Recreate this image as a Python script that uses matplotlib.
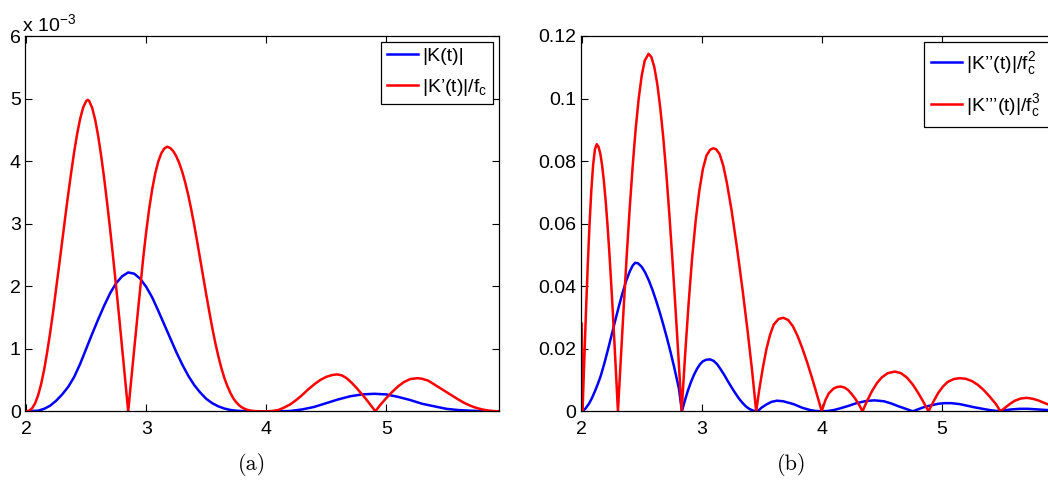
import matplotlib
matplotlib.use("Agg")
import matplotlib.pyplot as plt
from matplotlib.ticker import FuncFormatter

plt.rcParams['font.family'] = ['Liberation Sans', 'DejaVu Sans']
plt.rcParams['mathtext.fontset'] = 'custom'
plt.rcParams['mathtext.rm'] = 'Liberation Sans'
plt.rcParams['mathtext.it'] = 'Liberation Sans'

# ---------------- Panel (a) data (y in units of 1e-3) ----------------
red_a_x = [2.000, 2.025, 2.050, 2.075, 2.100, 2.125, 2.150, 2.175, 2.200, 2.225, 2.250,
           2.275, 2.300, 2.325, 2.350, 2.375, 2.400, 2.425, 2.450, 2.475, 2.500, 2.513,
           2.525, 2.550, 2.575, 2.600, 2.625, 2.650, 2.675, 2.700, 2.725, 2.750, 2.775,
           2.800, 2.825, 2.850,
           2.875, 2.900, 2.925, 2.950, 2.975, 3.000, 3.025, 3.050, 3.075, 3.100, 3.125,
           3.150, 3.175, 3.200, 3.225, 3.250, 3.275, 3.300, 3.325, 3.350, 3.375, 3.400,
           3.425, 3.450, 3.475, 3.500, 3.525, 3.550, 3.575, 3.600, 3.625, 3.650, 3.675,
           3.700, 3.725, 3.750, 3.775, 3.800, 3.825, 3.850, 3.875, 3.900, 3.950, 4.000,
           4.05, 4.10, 4.15, 4.20, 4.25, 4.30, 4.35, 4.40, 4.45, 4.50, 4.55, 4.59,
           4.63, 4.67, 4.71, 4.75, 4.79, 4.83, 4.87, 4.91,
           4.95, 5.00, 5.05, 5.10, 5.15, 5.20, 5.26, 5.30, 5.35, 5.40, 5.45, 5.50,
           5.55, 5.60, 5.65, 5.70, 5.75, 5.80, 5.85, 5.90, 5.95]
red_a_y = [0.00, 0.01, 0.05, 0.13, 0.26, 0.44, 0.67, 0.95, 1.26, 1.60, 1.97,
           2.34, 2.72, 3.10, 3.47, 3.82, 4.15, 4.44, 4.68, 4.86, 4.96, 4.98,
           4.96, 4.85, 4.66, 4.40, 4.08, 3.72, 3.32, 2.90, 2.45, 1.98, 1.50,
           1.00, 0.50, 0.00,
           0.50, 0.99, 1.48, 1.96, 2.45, 2.87, 3.24, 3.55, 3.80, 3.99, 4.12,
           4.20, 4.23, 4.21, 4.16, 4.08, 3.97, 3.83, 3.66, 3.46, 3.23, 2.98,
           2.71, 2.43, 2.15, 1.87, 1.60, 1.34, 1.10, 0.89, 0.70, 0.54, 0.41,
           0.30, 0.21, 0.145, 0.095, 0.06, 0.035, 0.02, 0.01, 0.004, 0.0, 0.0,
           0.005, 0.02, 0.06, 0.11, 0.18, 0.26, 0.35, 0.43, 0.50, 0.55, 0.58, 0.59,
           0.575, 0.53, 0.46, 0.38, 0.29, 0.20, 0.10, 0.0,
           0.10, 0.21, 0.31, 0.40, 0.47, 0.515, 0.53, 0.52, 0.49, 0.43, 0.37, 0.31,
           0.25, 0.19, 0.135, 0.09, 0.055, 0.03, 0.012, 0.003, 0.0]

blue_a_x = [2.00, 2.10, 2.15, 2.20, 2.25, 2.30, 2.35, 2.40, 2.45, 2.50, 2.55, 2.60,
            2.65, 2.70, 2.75, 2.80, 2.85, 2.90, 2.95, 3.00, 3.05, 3.10, 3.15, 3.20,
            3.25, 3.30, 3.35, 3.40, 3.45, 3.50, 3.55, 3.60, 3.65, 3.70, 3.75, 3.80,
            3.90, 4.00, 4.10, 4.20, 4.30, 4.40, 4.50, 4.60, 4.70, 4.80, 4.90, 5.00,
            5.10, 5.20, 5.30, 5.40, 5.50, 5.60, 5.70, 5.80, 5.95]
blue_a_y = [0.0, 0.01, 0.04, 0.09, 0.17, 0.27, 0.39, 0.55, 0.76, 1.0, 1.24, 1.47,
            1.69, 1.89, 2.05, 2.16, 2.22, 2.2, 2.12, 1.99, 1.82, 1.61, 1.39, 1.17,
            0.95, 0.75, 0.57, 0.42, 0.3, 0.2, 0.13, 0.08, 0.045, 0.022, 0.01, 0.004,
            0.0, 0.0, 0.0, 0.005, 0.03, 0.07, 0.13, 0.19, 0.24, 0.27, 0.28, 0.27,
            0.23, 0.18, 0.12, 0.08, 0.04, 0.02, 0.01, 0.003, 0.0]

# ---------------- Panel (b) data ----------------
red_b_x = [2.000, 2.007, 2.020, 2.035, 2.050, 2.065, 2.080, 2.095, 2.110, 2.125, 2.140,
           2.155, 2.170, 2.185, 2.200, 2.215, 2.230, 2.245, 2.260, 2.275, 2.290, 2.302,
           2.325, 2.350, 2.375, 2.400, 2.425, 2.450, 2.475, 2.500, 2.525, 2.557, 2.580,
           2.605, 2.630, 2.655, 2.680, 2.705, 2.730, 2.755, 2.780, 2.805, 2.833,
           2.86, 2.89, 2.92, 2.95, 2.98, 3.01, 3.04, 3.07, 3.095, 3.12, 3.15, 3.18,
           3.21, 3.25, 3.295, 3.34, 3.38, 3.42, 3.454,
           3.48, 3.51, 3.54, 3.57, 3.60, 3.64, 3.68, 3.72, 3.76, 3.80, 3.84, 3.88,
           3.92, 3.96, 4.00,
           4.03, 4.06, 4.10, 4.13, 4.158, 4.19, 4.22, 4.25, 4.28, 4.31, 4.34,
           4.38, 4.42, 4.46, 4.50, 4.55, 4.61, 4.66, 4.71, 4.76, 4.81, 4.85, 4.89,
           4.93, 4.97, 5.01, 5.05, 5.10, 5.15, 5.20, 5.25, 5.30, 5.35, 5.40, 5.45, 5.49,
           5.53, 5.57, 5.61, 5.66, 5.71, 5.76, 5.81, 5.86, 5.90, 5.95]
red_b_y = [0.028, 0.0, 0.0147, 0.0312, 0.0463, 0.0596, 0.0705, 0.0787, 0.0837, 0.0854, 0.0846,
           0.0824, 0.0787, 0.0736, 0.0671, 0.0596, 0.0510, 0.0414, 0.0312, 0.0203, 0.0091, 0.0,
           0.0161, 0.0333, 0.0497, 0.0649, 0.0785, 0.0904, 0.1000, 0.1073, 0.1121, 0.1143, 0.1133,
           0.1101, 0.1046, 0.0969, 0.0874, 0.0761, 0.0632, 0.0490, 0.0339, 0.0182, 0.0,
           0.017, 0.034, 0.049, 0.061, 0.0705, 0.0775, 0.0818, 0.0836, 0.0841, 0.0838, 0.0822, 0.0785,
           0.0730, 0.0640, 0.0520, 0.0390, 0.0265, 0.0130, 0.0,
           0.007, 0.014, 0.020, 0.0245, 0.0277, 0.0295, 0.0299, 0.0292, 0.0272, 0.0240, 0.0200, 0.0155,
           0.0106, 0.0054, 0.0,
           0.0035, 0.0058, 0.0073, 0.0078, 0.0079, 0.0076, 0.0068, 0.0055, 0.0040, 0.0022, 0.0,
           0.0035, 0.0065, 0.0090, 0.0108, 0.0122, 0.0127, 0.0122, 0.0108, 0.0085, 0.0055, 0.0028, 0.0,
           0.003, 0.0058, 0.0079, 0.0094, 0.0103, 0.0106, 0.0104, 0.0097, 0.0085, 0.0068, 0.0047, 0.0024, 0.0,
           0.0012, 0.0024, 0.0034, 0.0041, 0.0043, 0.0040, 0.0034, 0.0026, 0.0020, 0.0013]

blue_b_x = [2.00, 2.03, 2.06, 2.085, 2.11, 2.135, 2.16, 2.19, 2.22, 2.25, 2.28, 2.31,
            2.34, 2.37, 2.40, 2.425, 2.446, 2.47, 2.50, 2.53, 2.56, 2.59, 2.62, 2.65,
            2.68, 2.71, 2.74, 2.77, 2.81, 2.835,
            2.86, 2.885, 2.91, 2.935, 2.96, 2.985, 3.01, 3.04, 3.07, 3.10, 3.13, 3.16,
            3.19, 3.22, 3.25, 3.28, 3.31, 3.34, 3.37, 3.40, 3.43, 3.465,
            3.50, 3.54, 3.58, 3.627, 3.68, 3.765, 3.84, 3.904, 3.95, 4.00,
            4.05, 4.10, 4.15, 4.22, 4.29, 4.37, 4.44, 4.52, 4.58, 4.64, 4.70, 4.76,
            4.80, 4.85, 4.91, 4.97, 5.02, 5.08, 5.15, 5.21, 5.27, 5.34, 5.40, 5.46,
            5.52, 5.58, 5.65, 5.72, 5.80, 5.88, 5.95]
blue_b_y = [0.0, 0.0008, 0.0024, 0.0042, 0.0064, 0.0088, 0.0115, 0.0155, 0.0199, 0.0245, 0.0291, 0.0336,
            0.0378, 0.0416, 0.0447, 0.0466, 0.0475, 0.0473, 0.0462, 0.0443, 0.0418, 0.0388, 0.0354, 0.0317,
            0.0277, 0.0235, 0.0190, 0.0142, 0.0073, 0.0,
            0.0035, 0.0066, 0.0093, 0.0116, 0.0135, 0.0150, 0.0160, 0.0165, 0.0166, 0.0161, 0.0150, 0.0133,
            0.0115, 0.0095, 0.0076, 0.0058, 0.0041, 0.0027, 0.0015, 0.0007, 0.0002, 0.0,
            0.0012, 0.0022, 0.0030, 0.0034, 0.0032, 0.0023, 0.0011, 0.0004, 0.0001, 0.0,
            0.0001, 0.0004, 0.0009, 0.0017, 0.0026, 0.0033, 0.0035, 0.0032, 0.0025, 0.0016, 0.0008, 0.0,
            0.0006, 0.0013, 0.0019, 0.0024, 0.0026, 0.0026, 0.0023, 0.0018, 0.0013, 0.0008, 0.0004, 0.0001,
            0.0003, 0.0006, 0.0008, 0.0008, 0.0006, 0.0004, 0.0002]

xticks = [2, 3, 4, 5]
yticks_a = [0, 1, 2, 3, 4, 5, 6]
yticks_b = [0, 0.02, 0.04, 0.06, 0.08, 0.1, 0.12]
ytick_labels_b = ['0', '0.02', '0.04', '0.06', '0.08', '0.1', '0.12']

BLUE = '#0000ff'
RED = '#ff0000'
LW = 1.8
FS = 14

fig = plt.figure(figsize=(10.48, 4.83), dpi=100)
ax_a = fig.add_axes([25 / 1048, (483 - 411.3) / 483, 474 / 1048, 375.3 / 483])
ax_b = fig.add_axes([580.5 / 1048, (483 - 411.3) / 483, 474 / 1048, 375.3 / 483])


def style(ax):
    ax.set_xlim(1.99, 5.94)
    ax.set_xticks(xticks)
    ax.tick_params(direction='in', length=5, width=0.8, top=True, right=True,
                   labelsize=FS, colors='black')
    ax.tick_params(axis='x', pad=7)
    ax.tick_params(axis='y', pad=3)
    for s in ax.spines.values():
        s.set_linewidth(0.9)
        s.set_color('black')


# Panel (a)
ax_a.plot(blue_a_x, blue_a_y, color=BLUE, lw=LW, label='|K(t)|')
ax_a.plot(red_a_x, red_a_y, color=RED, lw=LW, label="|K’(t)|/f$_\\mathregular{c}$")
style(ax_a)
ax_a.set_ylim(0, 6)
ax_a.set_yticks(yticks_a)
ax_a.yaxis.set_major_formatter(FuncFormatter(lambda v, p: '%d' % v))
leg_a = ax_a.legend(loc='upper right', fontsize=FS, frameon=True, fancybox=False,
                    edgecolor='black', framealpha=1, borderaxespad=0.3,
                    handlelength=1.6, handletextpad=0.2, labelspacing=0.6,
                    borderpad=0.3)
leg_a.get_frame().set_linewidth(0.9)
fig.text(22 / 1048, 1 - 31 / 483, 'x 10$^{\\mathregular{-3}}$', fontsize=FS,
         ha='left', va='baseline')

# Panel (b)
ax_b.plot(blue_b_x, blue_b_y, color=BLUE, lw=LW,
          label="|K’’(t)|/f$_\\mathregular{c}^\\mathregular{2}$")
ax_b.plot(red_b_x, red_b_y, color=RED, lw=LW,
          label="|K’’’(t)|/f$_\\mathregular{c}^\\mathregular{3}$")
style(ax_b)
ax_b.set_ylim(0, 0.12)
ax_b.set_yticks(yticks_b)
ax_b.set_yticklabels(ytick_labels_b)
leg_b = ax_b.legend(loc='upper right', fontsize=FS, frameon=True, fancybox=False,
                    edgecolor='black', framealpha=1, borderaxespad=0.3,
                    handlelength=1.6, handletextpad=0.2, labelspacing=0.8,
                    borderpad=0.4)
leg_b.get_frame().set_linewidth(0.9)

# Captions
fig.text(252 / 1048, 1 - 465 / 483, '(a)', fontsize=16, family='cmr10',
         ha='center', va='center')
fig.text(792 / 1048, 1 - 465 / 483, '(b)', fontsize=16, family='cmr10',
         ha='center', va='center')

fig.savefig('out.png', dpi=100)
